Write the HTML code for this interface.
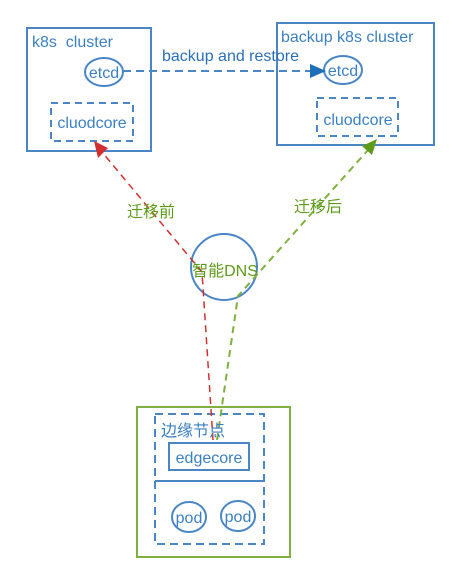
<!DOCTYPE html>
<html><head><meta charset="utf-8"><style>
html,body{margin:0;padding:0;background:#fff;}
svg{display:block;font-family:"Liberation Sans","Noto Sans CJK SC",sans-serif;}
</style></head><body>
<svg width="451" height="566" viewBox="0 0 451 566" xmlns="http://www.w3.org/2000/svg">
<g fill="none" stroke="#4a86c5" stroke-width="2">
<rect x="27" y="28" width="124" height="123"/>
<rect x="277" y="23" width="157" height="122"/>
<ellipse cx="104" cy="72" rx="19" ry="14"/>
<ellipse cx="343" cy="70" rx="19" ry="14"/>
<rect x="51" y="103" width="82" height="38" stroke-dasharray="7,5"/>
<rect x="317" y="98" width="81" height="38" stroke-dasharray="7,5"/>
<line x1="123" y1="71" x2="312" y2="71" stroke-dasharray="8,5"/>
<circle cx="224" cy="267" r="33"/>
<rect x="155" y="414" width="109" height="130" stroke-dasharray="8,5"/>
<line x1="155" y1="481" x2="264" y2="481"/>
<rect x="169" y="443" width="80" height="27"/>
<ellipse cx="189" cy="517" rx="17" ry="15"/>
<ellipse cx="238" cy="516" rx="17" ry="15"/>
</g>
<polygon points="310,64 326,71 310,78" fill="#1f6fb8"/>
<rect x="137" y="407" width="153" height="150" fill="none" stroke="#7fb041" stroke-width="2"/>
<polyline points="213,440 202,272 102,152" fill="none" stroke="#d03030" stroke-width="1.5" stroke-dasharray="7,5"/>
<polygon points="94,141 108,148 98,158" fill="#d03030"/>
<polyline points="217,440 238,296 368,150" fill="none" stroke="#7fb041" stroke-width="2" stroke-dasharray="7,5"/>
<polygon points="377,139 372,155 362,146" fill="#5e9a1a"/>
<g fill="#3c7fc0" font-size="16">
<text x="32" y="47">k8s&#160;&#160;cluster</text>
<text x="281" y="42">backup k8s cluster</text>
<text x="104" y="78" text-anchor="middle">etcd</text>
<text x="343" y="76" text-anchor="middle">etcd</text>
<text x="92" y="128" text-anchor="middle">cluodcore</text>
<text x="358" y="125" text-anchor="middle">cluodcore</text>
<text x="162" y="61" fill="#2a6fb5">backup and restore</text>
<text x="161" y="436">边缘节点</text>
<text x="209" y="463" text-anchor="middle">edgecore</text>
<text x="189" y="523" text-anchor="middle">pod</text>
<text x="238" y="522" text-anchor="middle">pod</text>
</g>
<g fill="#5e9a1a" font-size="16">
<text x="127" y="217">迁移前</text>
<text x="294" y="212">迁移后</text>
<text x="225" y="276" text-anchor="middle">智能DNS</text>
</g>
</svg>
</body></html>
